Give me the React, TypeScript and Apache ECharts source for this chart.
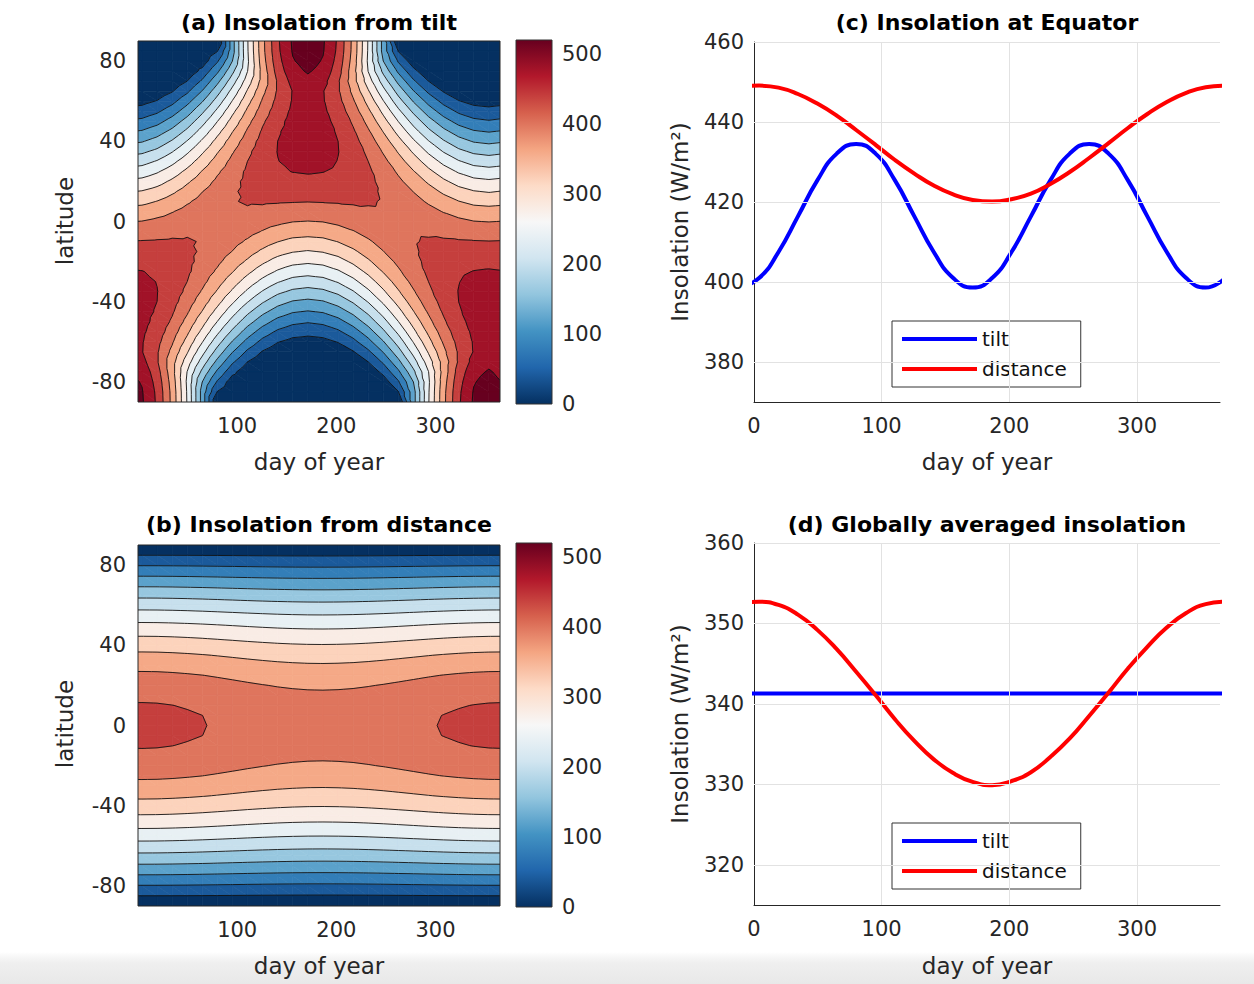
import React, { useEffect, useRef } from "react";
import * as echarts from "echarts";

// ---------------- data ----------------
const latitudes = [90, 85, 80, 75, 70, 65, 60, 55, 50, 45, 40, 35, 30, 25, 20, 15, 10, 5, 0, -5, -10, -15, -20, -25, -30, -35, -40, -45, -50, -55, -60, -65, -70, -75, -80, -85, -90];

// day-of-year sample columns and the declination profile that applies on that day
const days = [-11.3, 4.0, 19.2, 34.4, 49.6, 64.8, 80.0, 95.2, 110.4, 125.6, 140.8, 156.0, 171.3, 186.5, 201.7, 216.9, 232.1, 247.3, 262.5, 277.7, 292.9, 308.1, 323.3, 338.5, 353.8, 369.0];
const declinationIndex = [-6, -5, -4, -3, -2, -1, 0, 1, 2, 3, 4, 5, 6, 5, 4, 3, 2, 1, 0, -1, -2, -3, -4, -5, -6, -5];

// daily insolation (W/m^2) vs latitude (90N -> 90S) for declination 0, 6.1, 11.7, 16.6, 20.3, 22.6, 23.4 deg
const tiltDec00 = [0, 38, 75, 112, 149, 184, 217, 249, 279, 307, 333, 356, 376, 394, 408, 420, 428, 433, 434, 433, 428, 420, 408, 394, 376, 356, 333, 307, 279, 249, 217, 184, 149, 112, 75, 38, 0];
const tiltDec06 = [144, 144, 160, 190, 222, 253, 282, 310, 335, 358, 379, 396, 411, 423, 431, 436, 438, 437, 432, 424, 413, 399, 382, 362, 339, 314, 286, 256, 225, 192, 157, 122, 86, 51, 18, 0, 0];
const tiltDec12 = [277, 276, 273, 279, 300, 324, 347, 368, 388, 405, 420, 432, 440, 446, 448, 447, 443, 436, 425, 412, 395, 376, 354, 329, 302, 273, 242, 209, 176, 141, 107, 72, 40, 11, 0, 0, 0];
const tiltDec17 = [389, 388, 383, 376, 376, 390, 405, 420, 434, 445, 454, 460, 463, 463, 460, 454, 444, 432, 416, 398, 377, 353, 327, 299, 269, 237, 204, 170, 136, 101, 68, 37, 11, 0, 0, 0, 0];
const tiltDec20 = [474, 472, 466, 457, 445, 445, 452, 461, 469, 476, 480, 481, 479, 475, 467, 457, 443, 427, 408, 386, 361, 334, 305, 275, 243, 209, 175, 141, 106, 73, 42, 15, 0, 0, 0, 0, 0];
const tiltDec23a = [525, 523, 517, 508, 494, 482, 483, 487, 492, 494, 495, 493, 489, 481, 471, 458, 442, 423, 401, 377, 350, 322, 291, 259, 226, 192, 157, 123, 89, 57, 28, 6, 0, 0, 0, 0, 0];
const tiltDec23b = [543, 541, 535, 524, 510, 495, 494, 496, 499, 501, 500, 497, 492, 483, 472, 458, 441, 421, 399, 374, 347, 317, 286, 254, 220, 186, 151, 117, 83, 52, 24, 3, 0, 0, 0, 0, 0];
const tiltProfiles = [tiltDec00, tiltDec06, tiltDec12, tiltDec17, tiltDec20, tiltDec23a, tiltDec23b];

// panel (c) equator, panel (d) global mean, at the same days
const equatorTilt = [398.6, 401.0, 407.5, 416.4, 425.4, 432.1, 434.5, 432.1, 425.4, 416.4, 407.5, 401.0, 398.6, 401.0, 407.5, 416.4, 425.4, 432.1, 434.5, 432.1, 425.4, 416.4, 407.5, 401.0, 398.6, 401.0];
const equatorDistance = [448.7, 449.1, 448.6, 447.0, 444.6, 441.6, 438.0, 434.3, 430.5, 427.1, 424.1, 421.9, 420.5, 420.1, 420.7, 422.1, 424.5, 427.5, 431.0, 434.7, 438.5, 442.0, 445.0, 447.3, 448.7, 449.1];
const globalDistance = [352.4, 352.7, 352.3, 351.1, 349.2, 346.8, 344.0, 341.1, 338.1, 335.4, 333.1, 331.4, 330.3, 329.9, 330.4, 331.5, 333.4, 335.7, 338.5, 341.4, 344.4, 347.1, 349.5, 351.3, 352.4, 352.7];
const globalTilt = 341.3;
const equatorMean = 434.5;

const contourLevels = [0, 40, 80, 120, 160, 200, 240, 280, 320, 360, 400, 440, 480, 520];
const colorMax = 520;

// ---------------- tables built from the arrays ----------------
const tiltGrid: number[][] = latitudes.map((_, i) =>
  days.map((_, j) => {
    const k = declinationIndex[j];
    return k >= 0 ? tiltProfiles[k][i] : tiltProfiles[-k][latitudes.length - 1 - i];
  })
);
const distanceGrid: number[][] = latitudes.map((_, i) => days.map((_, j) => (tiltDec00[i] * equatorDistance[j]) / equatorMean));

// ---------------- styling helpers ----------------
const FONT = '"DejaVu Sans", sans-serif';
const TXT = "#262626";
const RDBU = ["#053061", "#2166ac", "#4393c3", "#92c5de", "#d1e5f0", "#f7f7f7", "#fddbc7", "#f4a582", "#d6604d", "#b2182b", "#67001f"];
function hexRgb(h: string) {
  return [parseInt(h.slice(1, 3), 16), parseInt(h.slice(3, 5), 16), parseInt(h.slice(5, 7), 16)];
}
function colormap(t: number) {
  t = Math.max(0, Math.min(1, t));
  const x = t * 10;
  const i = Math.min(9, Math.floor(x));
  const f = x - i;
  const a = hexRgb(RDBU[i]), b = hexRgb(RDBU[i + 1]);
  const c = a.map((v, k) => Math.round(v + (b[k] - v) * f));
  return `rgb(${c[0]},${c[1]},${c[2]})`;
}
const bandColors = contourLevels.map((l) => colormap(l / colorMax));

type P = { x: number; y: number; v: number };
function clipPoly(poly: P[], L: number, keepAbove: boolean): P[] {
  const out: P[] = [];
  const n = poly.length;
  for (let k = 0; k < n; k++) {
    const a = poly[k], c = poly[(k + 1) % n];
    const ain = keepAbove ? a.v >= L : a.v <= L;
    const cin = keepAbove ? c.v >= L : c.v <= L;
    if (ain) out.push(a);
    if (ain !== cin) {
      const t = (L - a.v) / (c.v - a.v);
      out.push({ x: a.x + t * (c.x - a.x), y: a.y + t * (c.y - a.y), v: L });
    }
  }
  return out;
}
function bandOf(v: number) {
  let b = 0;
  while (b < contourLevels.length - 1 && v >= contourLevels[b + 1]) b++;
  return b;
}
function cellPoints(api: any, grid: number[][]) {
  const j = api.value(2), i = api.value(3);
  return [
    [j, i],
    [j + 1, i],
    [j + 1, i + 1],
    [j, i + 1],
  ].map(([jj, ii]) => {
    const c = api.coord([days[jj], latitudes[ii]]);
    return { x: c[0], y: c[1], v: grid[ii][jj] } as P;
  });
}
function polyEl(pts: P[], b: number) {
  return {
    type: "polygon",
    shape: { points: pts.map((p) => [p.x, p.y]) },
    style: { fill: bandColors[b], stroke: bandColors[b], lineWidth: 0.7 },
  };
}
function fillRenderer(grid: number[][]) {
  return (_params: any, api: any) => {
    const pts = cellPoints(api, grid);
    const bs = pts.map((p) => bandOf(p.v));
    const children: any[] = [];
    if (bs.every((b) => b === bs[0])) {
      children.push(polyEl(pts, bs[0]));
    } else {
      const tris = [
        [pts[0], pts[1], pts[2]],
        [pts[0], pts[2], pts[3]],
      ];
      for (const tri of tris) {
        const tb = tri.map((p) => bandOf(p.v));
        const bmin = Math.min(...tb), bmax = Math.max(...tb);
        for (let b = bmin; b <= bmax; b++) {
          let poly: P[] = tri;
          if (b > 0) poly = clipPoly(poly, contourLevels[b], true);
          if (b < contourLevels.length - 1 && poly.length) poly = clipPoly(poly, contourLevels[b + 1], false);
          if (poly.length >= 3) children.push(polyEl(poly, b));
        }
      }
    }
    return { type: "group", children };
  };
}
function lineRenderer(grid: number[][]) {
  return (_params: any, api: any) => {
    const pts = cellPoints(api, grid);
    const tris = [
      [pts[0], pts[1], pts[2]],
      [pts[0], pts[2], pts[3]],
    ];
    const children: any[] = [];
    for (const tri of tris) {
      const vmin = Math.min(...tri.map((p) => p.v)), vmax = Math.max(...tri.map((p) => p.v));
      for (let li = 1; li < contourLevels.length; li++) {
        const L = contourLevels[li];
        if (L < vmin || L > vmax) continue;
        const cross: number[][] = [];
        for (let k = 0; k < 3; k++) {
          const a = tri[k], c = tri[(k + 1) % 3];
          const aa = a.v >= L, ca = c.v >= L;
          if (aa !== ca) {
            const t = (L - a.v) / (c.v - a.v);
            cross.push([a.x + t * (c.x - a.x), a.y + t * (c.y - a.y)]);
          }
        }
        if (cross.length === 2) {
          children.push({
            type: "line",
            shape: { x1: cross[0][0], y1: cross[0][1], x2: cross[1][0], y2: cross[1][1] },
            style: { stroke: "#111", lineWidth: 0.9 },
          });
        }
      }
    }
    return { type: "group", children };
  };
}
const cells: number[][] = [];
for (let i = 0; i < latitudes.length - 1; i++) for (let j = 0; j < days.length - 1; j++) cells.push([days[j], latitudes[i], j, i]);

function colorbarRenderer(_p: any, api: any) {
  const p0 = api.coord([0, 0]);
  const p1 = api.coord([1, colorMax]);
  const stops = RDBU.map((c, k) => ({ offset: k / 10, color: c }));
  return {
    type: "rect",
    shape: { x: p0[0], y: p1[1], width: p1[0] - p0[0], height: p0[1] - p1[1] },
    style: { fill: new echarts.graphic.LinearGradient(0, 1, 0, 0, stops), stroke: "#333", lineWidth: 1 },
  };
}

const labelStyle = { fontFamily: FONT, fontSize: 21, color: TXT };

function contourAxes(gi: number) {
  return {
    x: {
      gridIndex: gi, type: "value", min: 0, max: 365, interval: 100,
      axisLine: { show: false }, axisTick: { show: false }, splitLine: { show: false },
      axisLabel: { ...labelStyle, margin: 13, formatter: (v: number) => (v > 0 && v <= 300 && v % 100 === 0 ? String(v) : "") },
    },
    y: {
      gridIndex: gi, type: "value", min: -90, max: 90, interval: 10,
      axisLine: { show: false }, axisTick: { show: false }, splitLine: { show: false },
      axisLabel: { ...labelStyle, margin: 12, formatter: (v: number) => (v % 40 === 0 && Math.abs(v) <= 80 ? String(v) : "") },
    },
  };
}
function colorbarAxes(gi: number) {
  return {
    x: { gridIndex: gi, type: "value", min: 0, max: 1, show: false },
    y: {
      gridIndex: gi, type: "value", min: 0, max: colorMax, interval: 100, position: "right",
      axisLine: { show: false }, axisTick: { show: false }, splitLine: { show: false },
      axisLabel: { ...labelStyle, margin: 10, formatter: (v: number) => (v % 100 === 0 && v <= 500 ? String(v) : "") },
    },
  };
}
function lineAxes(gi: number, ymin: number, ymax: number, step: number, labelStep: number) {
  return {
    x: {
      gridIndex: gi, type: "value", min: 0, max: 365, interval: 100,
      axisLine: { show: true, lineStyle: { color: TXT, width: 1 } }, axisTick: { show: false }, splitLine: { show: false },
      axisLabel: { ...labelStyle, margin: 13, formatter: (v: number) => (v % 100 === 0 && v <= 300 ? String(v) : "") },
    },
    y: {
      gridIndex: gi, type: "value", min: ymin, max: ymax, interval: step,
      axisLine: { show: true, lineStyle: { color: TXT, width: 1 } }, axisTick: { show: false }, splitLine: { show: false },
      axisLabel: { ...labelStyle, margin: 10, formatter: (v: number) => (v % labelStep === 0 ? String(v) : "") },
    },
  };
}
function gridLines(ticks: number[]) {
  return {
    silent: true,
    symbol: ["none", "none"],
    label: { show: false },
    lineStyle: { color: "#e2e2e2", width: 1, type: "solid" },
    data: [...ticks.map((t) => ({ yAxis: t })), { xAxis: 100 }, { xAxis: 200 }, { xAxis: 300 }],
  };
}

const yTicksC = [380, 400, 420, 440, 460];
const yTicksD = [320, 330, 340, 350, 360];

function title(text: string, x: number, y: number) {
  return { type: "text", x, y, z: 50, style: { text, fill: "#000", font: `bold 22px ${FONT}`, align: "center", verticalAlign: "middle" } };
}
function axisName(text: string, x: number, y: number, rotate = false) {
  return {
    type: "text", x, y, rotation: rotate ? Math.PI / 2 : 0, z: 50,
    style: { text, fill: TXT, font: `23px ${FONT}`, align: "center", verticalAlign: "middle" },
  };
}
function frame(x: number, y: number, w: number, h: number) {
  return { type: "rect", z: 60, silent: true, shape: { x, y, width: w, height: h }, style: { fill: "none", stroke: TXT, lineWidth: 1 } };
}
function legendAt(top: number) {
  return {
    left: 892, top, orient: "vertical", selectedMode: false, data: ["tilt", "distance"],
    icon: "rect", itemWidth: 75, itemHeight: 4, itemGap: 10, padding: [8, 14, 8, 10],
    borderColor: "#333", borderWidth: 1, backgroundColor: "#fff",
    textStyle: { fontFamily: FONT, fontSize: 20, color: "#111" },
  };
}

export default function App() {
  const ref = useRef<HTMLDivElement>(null);
  useEffect(() => {
    if (!ref.current) return;
    const chart = echarts.init(ref.current, undefined, { renderer: "svg" });
    const aA = contourAxes(0), cbA = colorbarAxes(1), aB = contourAxes(2), cbB = colorbarAxes(3);
    const aC = lineAxes(4, 370, 460, 10, 20), aD = lineAxes(5, 315, 360, 5, 10);
    const lineBase = { type: "line", smooth: true, symbol: "none", clip: true, z: 3 };
    chart.setOption({
      animation: false,
      backgroundColor: "#fff",
      grid: [
        { left: 138, top: 41, width: 362, height: 361 },
        { left: 516, top: 40, width: 36, height: 364 },
        { left: 138, top: 545, width: 362, height: 361 },
        { left: 516, top: 543, width: 36, height: 364 },
        { left: 754, top: 42, width: 466, height: 360 },
        { left: 754, top: 543, width: 466, height: 362 },
      ],
      xAxis: [aA.x, cbA.x, aB.x, cbB.x, aC.x, aD.x],
      yAxis: [aA.y, cbA.y, aB.y, cbB.y, aC.y, aD.y],
      legend: [legendAt(321), legendAt(823)],
      series: [
        { type: "custom", xAxisIndex: 0, yAxisIndex: 0, data: cells, renderItem: fillRenderer(tiltGrid), clip: true, silent: true, progressive: 0, z: 1 },
        { type: "custom", xAxisIndex: 0, yAxisIndex: 0, data: cells, renderItem: lineRenderer(tiltGrid), clip: true, silent: true, progressive: 0, z: 2 },
        { type: "custom", xAxisIndex: 1, yAxisIndex: 1, data: [[0, 0]], renderItem: colorbarRenderer, silent: true },
        { type: "custom", xAxisIndex: 2, yAxisIndex: 2, data: cells, renderItem: fillRenderer(distanceGrid), clip: true, silent: true, progressive: 0, z: 1 },
        { type: "custom", xAxisIndex: 2, yAxisIndex: 2, data: cells, renderItem: lineRenderer(distanceGrid), clip: true, silent: true, progressive: 0, z: 2 },
        { type: "custom", xAxisIndex: 3, yAxisIndex: 3, data: [[0, 0]], renderItem: colorbarRenderer, silent: true },
        { type: "line", name: "_gc", xAxisIndex: 4, yAxisIndex: 4, data: [[0, 400]], symbol: "none", lineStyle: { opacity: 0 }, z: 1, silent: true, markLine: gridLines(yTicksC) },
        { ...lineBase, name: "tilt", xAxisIndex: 4, yAxisIndex: 4, data: days.map((d, j) => [d, equatorTilt[j]]), lineStyle: { color: "#0000ff", width: 4 }, itemStyle: { color: "#0000ff" } },
        { ...lineBase, name: "distance", xAxisIndex: 4, yAxisIndex: 4, data: days.map((d, j) => [d, equatorDistance[j]]), lineStyle: { color: "#ff0000", width: 4 }, itemStyle: { color: "#ff0000" } },
        { type: "line", name: "_gd", xAxisIndex: 5, yAxisIndex: 5, data: [[0, 340]], symbol: "none", lineStyle: { opacity: 0 }, z: 1, silent: true, markLine: gridLines(yTicksD) },
        { ...lineBase, name: "tilt", xAxisIndex: 5, yAxisIndex: 5, data: days.map((d) => [d, globalTilt]), lineStyle: { color: "#0000ff", width: 4 }, itemStyle: { color: "#0000ff" } },
        { ...lineBase, name: "distance", xAxisIndex: 5, yAxisIndex: 5, data: days.map((d, j) => [d, globalDistance[j]]), lineStyle: { color: "#ff0000", width: 4 }, itemStyle: { color: "#ff0000" } },
      ],
      graphic: [
        {
          type: "rect", z: 0, silent: true, shape: { x: 0, y: 952, width: 1254, height: 32 },
          style: { fill: new echarts.graphic.LinearGradient(0, 0, 0, 1, [{ offset: 0, color: "rgba(235,235,235,0)" }, { offset: 0.35, color: "#efefef" }, { offset: 1, color: "#e8e8e8" }]) },
        },
        title("(a) Insolation from tilt", 319, 22),
        title("(b) Insolation from distance", 319, 524),
        title("(c) Insolation at Equator", 987, 22),
        title("(d) Globally averaged insolation", 987, 524),
        axisName("day of year", 319, 462),
        axisName("day of year", 319, 966),
        axisName("day of year", 987, 462),
        axisName("day of year", 987, 966),
        axisName("latitude", 65, 221, true),
        axisName("latitude", 65, 724, true),
        axisName("Insolation (W/m²)", 680, 222, true),
        axisName("Insolation (W/m²)", 680, 724, true),
        frame(138, 41, 362, 361),
        frame(138, 545, 362, 361),
      ],
    });
    return () => chart.dispose();
  }, []);
  return <div ref={ref} style={{ position: "absolute", left: 0, top: 0, width: 1254, height: 984 }} />;
}
